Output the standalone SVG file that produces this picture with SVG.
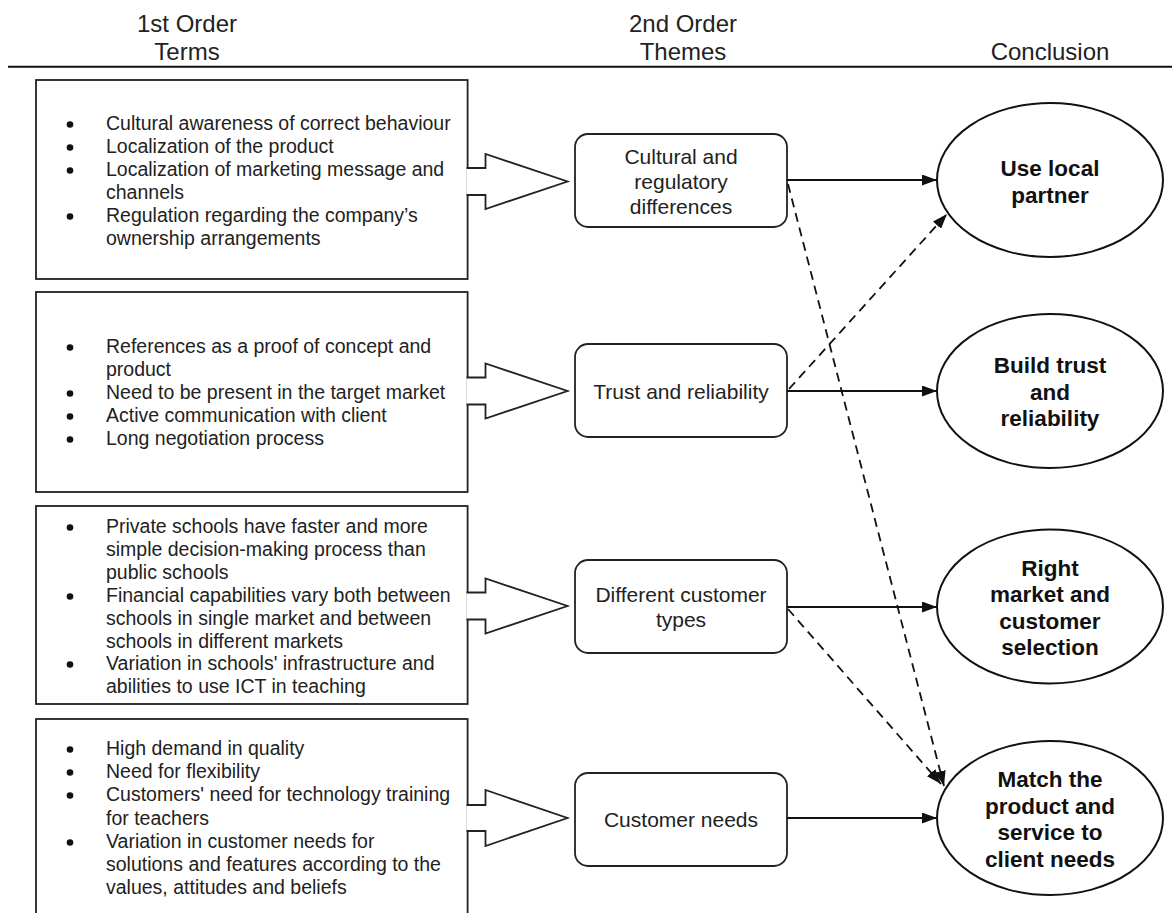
<svg xmlns="http://www.w3.org/2000/svg" width="1172" height="913" viewBox="0 0 1172 913">
  <style>
    text { font-family: "Liberation Sans", Arial, sans-serif; }
    .hdr { font-size: 24px; fill: #222; text-anchor: middle; }
    .bul { font-size: 19.5px; fill: #222; }
    .thm { font-size: 21px; fill: #222; text-anchor: middle; }
    .con { font-size: 22.5px; font-weight: bold; fill: #111; text-anchor: middle; }
    .box { fill: #fff; stroke: #222; stroke-width: 1.8; }
    .tb { fill: #fff; stroke: #222; stroke-width: 1.8; }
    .el { fill: #fff; stroke: #111; stroke-width: 2; }
    .blk { fill: #fff; stroke: #222; stroke-width: 1.8; stroke-linejoin: miter; }
    .dot { fill: #111; }
    .solid { stroke: #111; stroke-width: 2; fill: none; }
    .dash { stroke: #111; stroke-width: 1.8; fill: none; stroke-dasharray: 9 6; }
  </style>
  <defs>
    <marker id="ah" markerWidth="15" markerHeight="11" refX="15" refY="5.5" orient="auto" markerUnits="userSpaceOnUse">
      <path d="M0,0 L15,5.5 L0,11 z" fill="#111"/>
    </marker>
  </defs>
  <rect width="1172" height="913" fill="#fff"/>

  <g id="header">
    <text class="hdr" x="187" y="32">1st Order</text>
    <text class="hdr" x="187" y="60">Terms</text>
    <text class="hdr" x="683" y="32">2nd Order</text>
    <text class="hdr" x="683" y="60">Themes</text>
    <text class="hdr" x="1050" y="60">Conclusion</text>
    <line x1="8" y1="66.7" x2="1172" y2="66.7" stroke="#111" stroke-width="2"/>
  </g>

  <g id="terms1">
    <rect class="box" x="36" y="80" width="431.6" height="199"/>
    <circle class="dot" cx="70" cy="124.5" r="3.3"/>
    <circle class="dot" cx="70" cy="147.5" r="3.3"/>
    <circle class="dot" cx="70" cy="170.5" r="3.3"/>
    <circle class="dot" cx="70" cy="216.5" r="3.3"/>
    <text class="bul" x="106" y="130">Cultural awareness of correct behaviour</text>
    <text class="bul" x="106" y="153">Localization of the product</text>
    <text class="bul" x="106" y="176">Localization of marketing message and</text>
    <text class="bul" x="106" y="199">channels</text>
    <text class="bul" x="106" y="222">Regulation regarding the company’s</text>
    <text class="bul" x="106" y="245">ownership arrangements</text>
    <path class="blk" d="M466.5,168 H485.5 V154 L567.5,181.5 L485.5,209 V195 H466.5"/>
  </g>

  <g id="terms2">
    <rect class="box" x="36" y="292" width="431.6" height="200"/>
    <circle class="dot" cx="70" cy="347.5" r="3.3"/>
    <circle class="dot" cx="70" cy="393.5" r="3.3"/>
    <circle class="dot" cx="70" cy="416.5" r="3.3"/>
    <circle class="dot" cx="70" cy="439.5" r="3.3"/>
    <text class="bul" x="106" y="353">References as a proof of concept and</text>
    <text class="bul" x="106" y="376">product</text>
    <text class="bul" x="106" y="399">Need to be present in the target market</text>
    <text class="bul" x="106" y="422">Active communication with client</text>
    <text class="bul" x="106" y="445">Long negotiation process</text>
    <path class="blk" d="M466.5,377.5 H485.5 V363.5 L567.5,391 L485.5,418.5 V404.5 H466.5"/>
  </g>

  <g id="terms3">
    <rect class="box" x="36" y="506" width="431.6" height="198"/>
    <circle class="dot" cx="70" cy="527.5" r="3.3"/>
    <circle class="dot" cx="70" cy="596.5" r="3.3"/>
    <circle class="dot" cx="70" cy="664.5" r="3.3"/>
    <text class="bul" x="106" y="533">Private schools have faster and more</text>
    <text class="bul" x="106" y="556">simple decision-making process than</text>
    <text class="bul" x="106" y="579">public schools</text>
    <text class="bul" x="106" y="602">Financial capabilities vary both between</text>
    <text class="bul" x="106" y="625">schools in single market and between</text>
    <text class="bul" x="106" y="647.5">schools in different markets</text>
    <text class="bul" x="106" y="670">Variation in schools' infrastructure and</text>
    <text class="bul" x="106" y="693">abilities to use ICT in teaching</text>
    <path class="blk" d="M466.5,592.5 H485.5 V578.5 L567.5,606 L485.5,633.5 V619.5 H466.5"/>
  </g>

  <g id="terms4">
    <rect class="box" x="36" y="719" width="431.6" height="210"/>
    <circle class="dot" cx="70" cy="749.5" r="3.3"/>
    <circle class="dot" cx="70" cy="772.5" r="3.3"/>
    <circle class="dot" cx="70" cy="795.5" r="3.3"/>
    <circle class="dot" cx="70" cy="842.5" r="3.3"/>
    <text class="bul" x="106" y="755">High demand in quality</text>
    <text class="bul" x="106" y="778">Need for flexibility</text>
    <text class="bul" x="106" y="801">Customers' need for technology training</text>
    <text class="bul" x="106" y="825">for teachers</text>
    <text class="bul" x="106" y="848">Variation in customer needs for</text>
    <text class="bul" x="106" y="871">solutions and features according to the</text>
    <text class="bul" x="106" y="894">values, attitudes and beliefs</text>
    <path class="blk" d="M466.5,805 H485.5 V790 L567.5,818 L485.5,846 V831 H466.5"/>
  </g>

  <g id="theme1">
    <rect class="tb" x="575" y="134" width="212" height="93" rx="13"/>
    <text class="thm" x="681" y="163.5">Cultural and</text>
    <text class="thm" x="681" y="189">regulatory</text>
    <text class="thm" x="681" y="214">differences</text>
  </g>
  <g id="theme2">
    <rect class="tb" x="575" y="344" width="212" height="93" rx="13"/>
    <text class="thm" x="681" y="399">Trust and reliability</text>
  </g>
  <g id="theme3">
    <rect class="tb" x="575" y="560" width="212" height="93" rx="13"/>
    <text class="thm" x="681" y="601.5">Different customer</text>
    <text class="thm" x="681" y="627">types</text>
  </g>
  <g id="theme4">
    <rect class="tb" x="575" y="773" width="212" height="93" rx="13"/>
    <text class="thm" x="681" y="826.5">Customer needs</text>
  </g>

  <g id="concl1">
    <ellipse class="el" cx="1050" cy="180" rx="113" ry="77"/>
    <text class="con" x="1050" y="176">Use local</text>
    <text class="con" x="1050" y="202.5">partner</text>
  </g>
  <g id="concl2">
    <ellipse class="el" cx="1050" cy="391" rx="113" ry="77"/>
    <text class="con" x="1050" y="373">Build trust</text>
    <text class="con" x="1050" y="399.5">and</text>
    <text class="con" x="1050" y="426">reliability</text>
  </g>
  <g id="concl3">
    <ellipse class="el" cx="1050" cy="606.5" rx="113" ry="77"/>
    <text class="con" x="1050" y="575.5">Right</text>
    <text class="con" x="1050" y="602">market and</text>
    <text class="con" x="1050" y="628.5">customer</text>
    <text class="con" x="1050" y="655">selection</text>
  </g>
  <g id="concl4">
    <ellipse class="el" cx="1050" cy="818" rx="113" ry="77"/>
    <text class="con" x="1050" y="787">Match the</text>
    <text class="con" x="1050" y="813.5">product and</text>
    <text class="con" x="1050" y="840">service to</text>
    <text class="con" x="1050" y="866.5">client needs</text>
  </g>

  <g id="connectors">
    <line class="solid" x1="787" y1="180" x2="937" y2="180" marker-end="url(#ah)"/>
    <line class="solid" x1="787" y1="391" x2="937" y2="391" marker-end="url(#ah)"/>
    <line class="solid" x1="787" y1="607" x2="937" y2="607" marker-end="url(#ah)"/>
    <line class="solid" x1="787" y1="818" x2="937" y2="818" marker-end="url(#ah)"/>
    <line class="dash" x1="788" y1="184" x2="944" y2="786" marker-end="url(#ah)"/>
    <line class="dash" x1="789" y1="389" x2="947" y2="214" marker-end="url(#ah)"/>
    <line class="dash" x1="788" y1="609" x2="941" y2="784" marker-end="url(#ah)"/>
  </g>
</svg>
